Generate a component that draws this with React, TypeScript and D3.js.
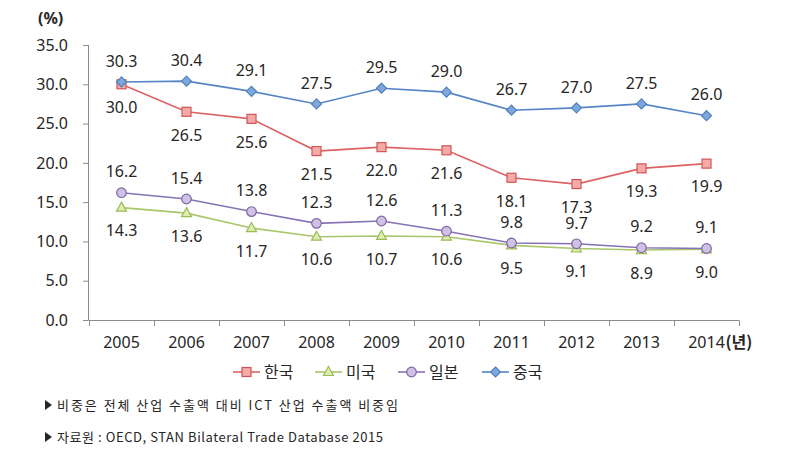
import React from "react";
import * as d3 from "d3";

const years = ["2005", "2006", "2007", "2008", "2009", "2010", "2011", "2012", "2013", "2014"];
const korea = [30.0, 26.5, 25.6, 21.5, 22.0, 21.6, 18.1, 17.3, 19.3, 19.9];
const usa = [14.3, 13.6, 11.7, 10.6, 10.7, 10.6, 9.5, 9.1, 8.9, 9.0];
const japan = [16.2, 15.4, 13.8, 12.3, 12.6, 11.3, 9.8, 9.7, 9.2, 9.1];
const china = [30.3, 30.4, 29.1, 27.5, 29.5, 29.0, 26.7, 27.0, 27.5, 26.0];
const yTicks = [0, 5, 10, 15, 20, 25, 30, 35];
const seriesNames = ["한국", "미국", "일본", "중국"];
const notes = [
  "비중은 전체 산업 수출액 대비 ICT 산업 수출액 비중임",
  "자료원 : OECD, STAN Bilateral Trade Database 2015",
];

type Series = {
  name: string;
  values: number[];
  line: string;
  fill: string;
  stroke: string;
  marker: "square" | "triangle" | "circle" | "diamond";
  above: boolean;
};

const series: Series[] = [
  { name: seriesNames[0], values: korea, line: "#dd6262", fill: "#f6aaa8", stroke: "#d05656", marker: "square", above: false },
  { name: seriesNames[1], values: usa, line: "#a9c76a", fill: "#dfecb0", stroke: "#9bbb59", marker: "triangle", above: false },
  { name: seriesNames[2], values: japan, line: "#8672b6", fill: "#cdc2e4", stroke: "#8064a2", marker: "circle", above: true },
  { name: seriesNames[3], values: china, line: "#5585c4", fill: "#7ea7dc", stroke: "#4f81bd", marker: "diamond", above: true },
];

const FONT = "'Noto Sans', 'Noto Sans CJK KR', sans-serif";
const KFONT = "'Noto Sans CJK KR', 'Noto Sans', sans-serif";

function Marker({ s, x, y }: { s: Series; x: number; y: number }) {
  const common = { fill: s.fill, stroke: s.stroke, strokeWidth: 1.2 };
  if (s.marker === "square") return <rect x={x - 4.5} y={y - 4.5} width={9} height={9} {...common} />;
  if (s.marker === "circle") return <circle cx={x} cy={y} r={4.8} {...common} />;
  if (s.marker === "triangle")
    return <path d={`M${x},${y - 5.5}L${x + 5},${y + 3.5}L${x - 5},${y + 3.5}Z`} {...common} />;
  return <path d={`M${x},${y - 5}L${x + 5},${y}L${x},${y + 5}L${x - 5},${y}Z`} {...common} />;
}

export default function App() {
  const W = 786, H = 454;
  const x = d3.scaleBand<string>().domain(years).range([89, 739]).padding(0);
  const y = d3.scaleLinear().domain([0, 35]).range([320, 45]);
  const cx = (yr: string) => (x(yr) as number) + x.bandwidth() / 2;
  const line = d3
    .line<number>()
    .x((_, i) => cx(years[i]))
    .y((v) => y(v));
  const boundaries = d3.range(years.length + 1).map((i) => 89 + i * x.bandwidth());
  const legendX = [233, 315, 398, 482];
  const legendY = 372;
  const noteLengths = [341, 326];

  return (
    <svg width={W} height={H} style={{ position: "absolute", left: 0, top: 0, background: "#fff" }}>
      <rect width={W} height={H} fill="#fff" />
      {/* unit label */}
      <text x={38} y={24} fontFamily={FONT} fontSize={16} fontWeight={700} fill="#262626">(%)</text>

      {/* y axis */}
      <line x1={88.5} x2={88.5} y1={y(35)} y2={y(0)} stroke="#8c8c8c" />
      {yTicks.map((t) => (
        <g key={t}>
          <line x1={83} x2={88.5} y1={y(t) + 0.5} y2={y(t) + 0.5} stroke="#8c8c8c" />
          <text x={68} y={y(t)} dy="0.36em" textAnchor="end" fontFamily={FONT} fontSize={16} fill="#262626">
            {d3.format(".1f")(t)}
          </text>
        </g>
      ))}

      {/* x axis */}
      <line x1={88.5} x2={739} y1={320.5} y2={320.5} stroke="#8c8c8c" />
      {boundaries.map((b, i) => (
        <line key={i} x1={b + 0.5} x2={b + 0.5} y1={320.5} y2={326} stroke="#8c8c8c" />
      ))}
      {years.map((yr) => (
        <text key={yr} x={cx(yr)} y={342} dy="0.36em" textAnchor="middle" fontFamily={FONT} fontSize={16} fill="#262626">
          {yr}
        </text>
      ))}
      <text x={cx(years[years.length - 1]) + 19} y={342} dy="0.36em" fontFamily={KFONT} fontSize={16} fontWeight={700} fill="#262626">
        (년)
      </text>

      {/* lines */}
      {series.map((s) => (
        <path key={s.name} d={line(s.values) || ""} fill="none" stroke={s.line} strokeWidth={1.6} />
      ))}
      {series.map((s) => (
        <g key={s.name + "m"}>
          {s.values.map((v, i) => (
            <Marker key={i} s={s} x={cx(years[i])} y={y(v)} />
          ))}
        </g>
      ))}
      {/* data labels */}
      {series.map((s) => (
        <g key={s.name + "l"}>
          {s.values.map((v, i) => (
            <text
              key={i}
              x={cx(years[i])}
              y={y(v) + (s.above ? -21 : 23)}
              dy="0.36em"
              textAnchor="middle"
              fontFamily={FONT}
              fontSize={16}
              fill="#262626"
            >
              {d3.format(".1f")(v)}
            </text>
          ))}
        </g>
      ))}

      {/* legend */}
      {series.map((s, i) => (
        <g key={s.name + "lg"}>
          <line x1={legendX[i]} x2={legendX[i] + 27} y1={legendY} y2={legendY} stroke={s.line} strokeWidth={1.6} />
          <Marker s={s} x={legendX[i] + 13.5} y={legendY} />
          <text x={legendX[i] + 31} y={legendY} dy="0.36em" fontFamily={KFONT} fontSize={16} fill="#262626">
            {s.name}
          </text>
        </g>
      ))}

      {/* notes */}
      {notes.map((n, i) => (
        <g key={i}>
          <path d={`M45,${400 + i * 32}L52,${405 + i * 32}L45,${410 + i * 32}Z`} fill="#262626" />
          <text
            x={57}
            y={405 + i * 32}
            dy="0.36em"
            fontFamily={KFONT}
            fontSize={13}
            fill="#262626"
            textLength={noteLengths[i]}
            lengthAdjust="spacing"
          >
            {n}
          </text>
        </g>
      ))}
    </svg>
  );
}
